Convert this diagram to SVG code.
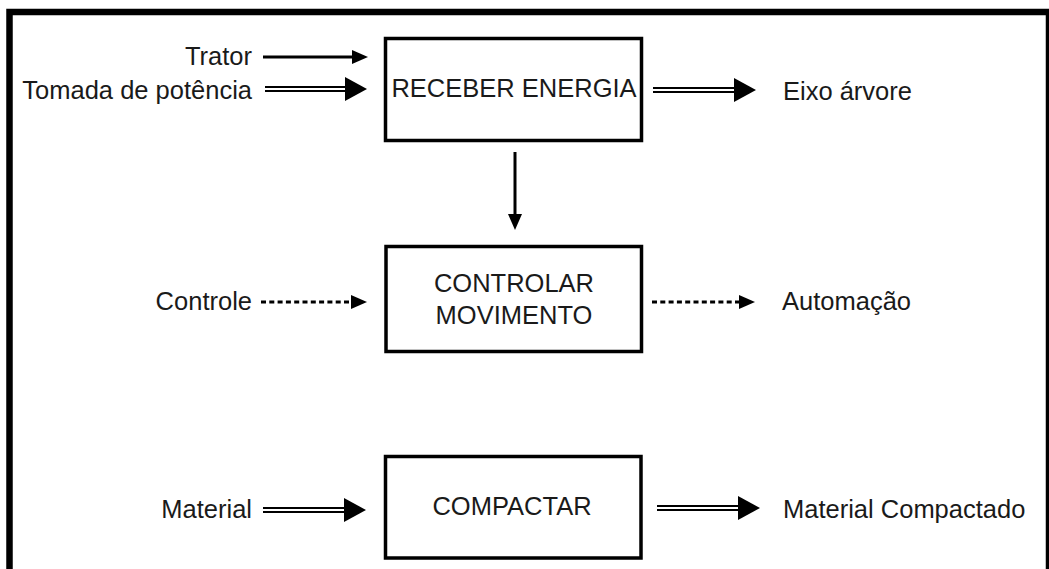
<svg xmlns="http://www.w3.org/2000/svg" width="1049" height="569" viewBox="0 0 1049 569">
  <style>
    .frame { fill: none; stroke: #000; stroke-width: 6.5; }
    .box { fill: #fff; stroke: #000; stroke-width: 3.5; }
    .lbl { font-family: "Liberation Sans", Arial, sans-serif; font-size: 25.5px; fill: #1a1a1a; }
    .single { stroke: #000; stroke-width: 3; fill: none; }
    .dotted { stroke: #000; stroke-width: 3; fill: none; stroke-dasharray: 5 3.3; }
    .dbl-outer { stroke: #000; stroke-width: 6; fill: none; }
    .dbl-inner { stroke: #fff; stroke-width: 2; fill: none; }
  </style>
  <defs>
    <marker id="head" markerUnits="userSpaceOnUse" markerWidth="16" markerHeight="14" refX="0" refY="7" orient="auto">
      <path d="M0,0 L16,7 L0,14 Z" fill="#000"/>
    </marker>
    <marker id="headBig" markerUnits="userSpaceOnUse" markerWidth="22" markerHeight="24" refX="0" refY="12" orient="auto">
      <path d="M0,0 L22,12 L0,24 Z" fill="#000"/>
    </marker>
  </defs>

  <rect width="1049" height="569" fill="#fff"/>
  <!-- outer frame, open at the bottom -->
  <path class="frame" d="M9.5,575 V12 H1049 V575"/>

  <g id="receber-energia">
    <rect class="box" x="385.5" y="38.5" width="256" height="102"/>
    <text class="lbl" x="514" y="97" text-anchor="middle">RECEBER ENERGIA</text>
  </g>

  <g id="controlar-movimento">
    <rect class="box" x="386" y="246.5" width="255.5" height="105"/>
    <text class="lbl" x="514" y="292" text-anchor="middle">CONTROLAR</text>
    <text class="lbl" x="514" y="324" text-anchor="middle">MOVIMENTO</text>
  </g>

  <g id="compactar">
    <rect class="box" x="385.5" y="456.5" width="255.5" height="101.5"/>
    <text class="lbl" x="512" y="515" text-anchor="middle">COMPACTAR</text>
  </g>

  <g id="labels">
    <text class="lbl" x="252" y="65" text-anchor="end">Trator</text>
    <text class="lbl" x="252" y="99" text-anchor="end">Tomada de potência</text>
    <text class="lbl" x="783" y="100">Eixo árvore</text>
    <text class="lbl" x="252" y="310" text-anchor="end">Controle</text>
    <text class="lbl" x="782" y="310">Automação</text>
    <text class="lbl" x="252" y="518" text-anchor="end">Material</text>
    <text class="lbl" x="783" y="518">Material Compactado</text>
  </g>

  <g id="connectors">
    <!-- single line inputs/outputs -->
    <line class="single" x1="263" y1="57" x2="352" y2="57" marker-end="url(#head)"/>
    <line class="single" x1="515" y1="152" x2="515" y2="214" marker-end="url(#head)"/>

    <!-- dotted control signals -->
    <line class="dotted" x1="261" y1="302" x2="351" y2="302" marker-end="url(#head)"/>
    <line class="dotted" x1="652" y1="302" x2="739" y2="302" marker-end="url(#head)"/>

    <!-- double line energy/material flows -->
    <line class="dbl-outer" x1="265" y1="89" x2="345" y2="89" marker-end="url(#headBig)"/>
    <line class="dbl-inner" x1="264" y1="89" x2="345" y2="89"/>

    <line class="dbl-outer" x1="653" y1="90" x2="734" y2="90" marker-end="url(#headBig)"/>
    <line class="dbl-inner" x1="652" y1="90" x2="734" y2="90"/>

    <line class="dbl-outer" x1="263" y1="510" x2="344" y2="510" marker-end="url(#headBig)"/>
    <line class="dbl-inner" x1="262" y1="510" x2="344" y2="510"/>

    <line class="dbl-outer" x1="657" y1="508" x2="738" y2="508" marker-end="url(#headBig)"/>
    <line class="dbl-inner" x1="656" y1="508" x2="738" y2="508"/>
  </g>
</svg>
